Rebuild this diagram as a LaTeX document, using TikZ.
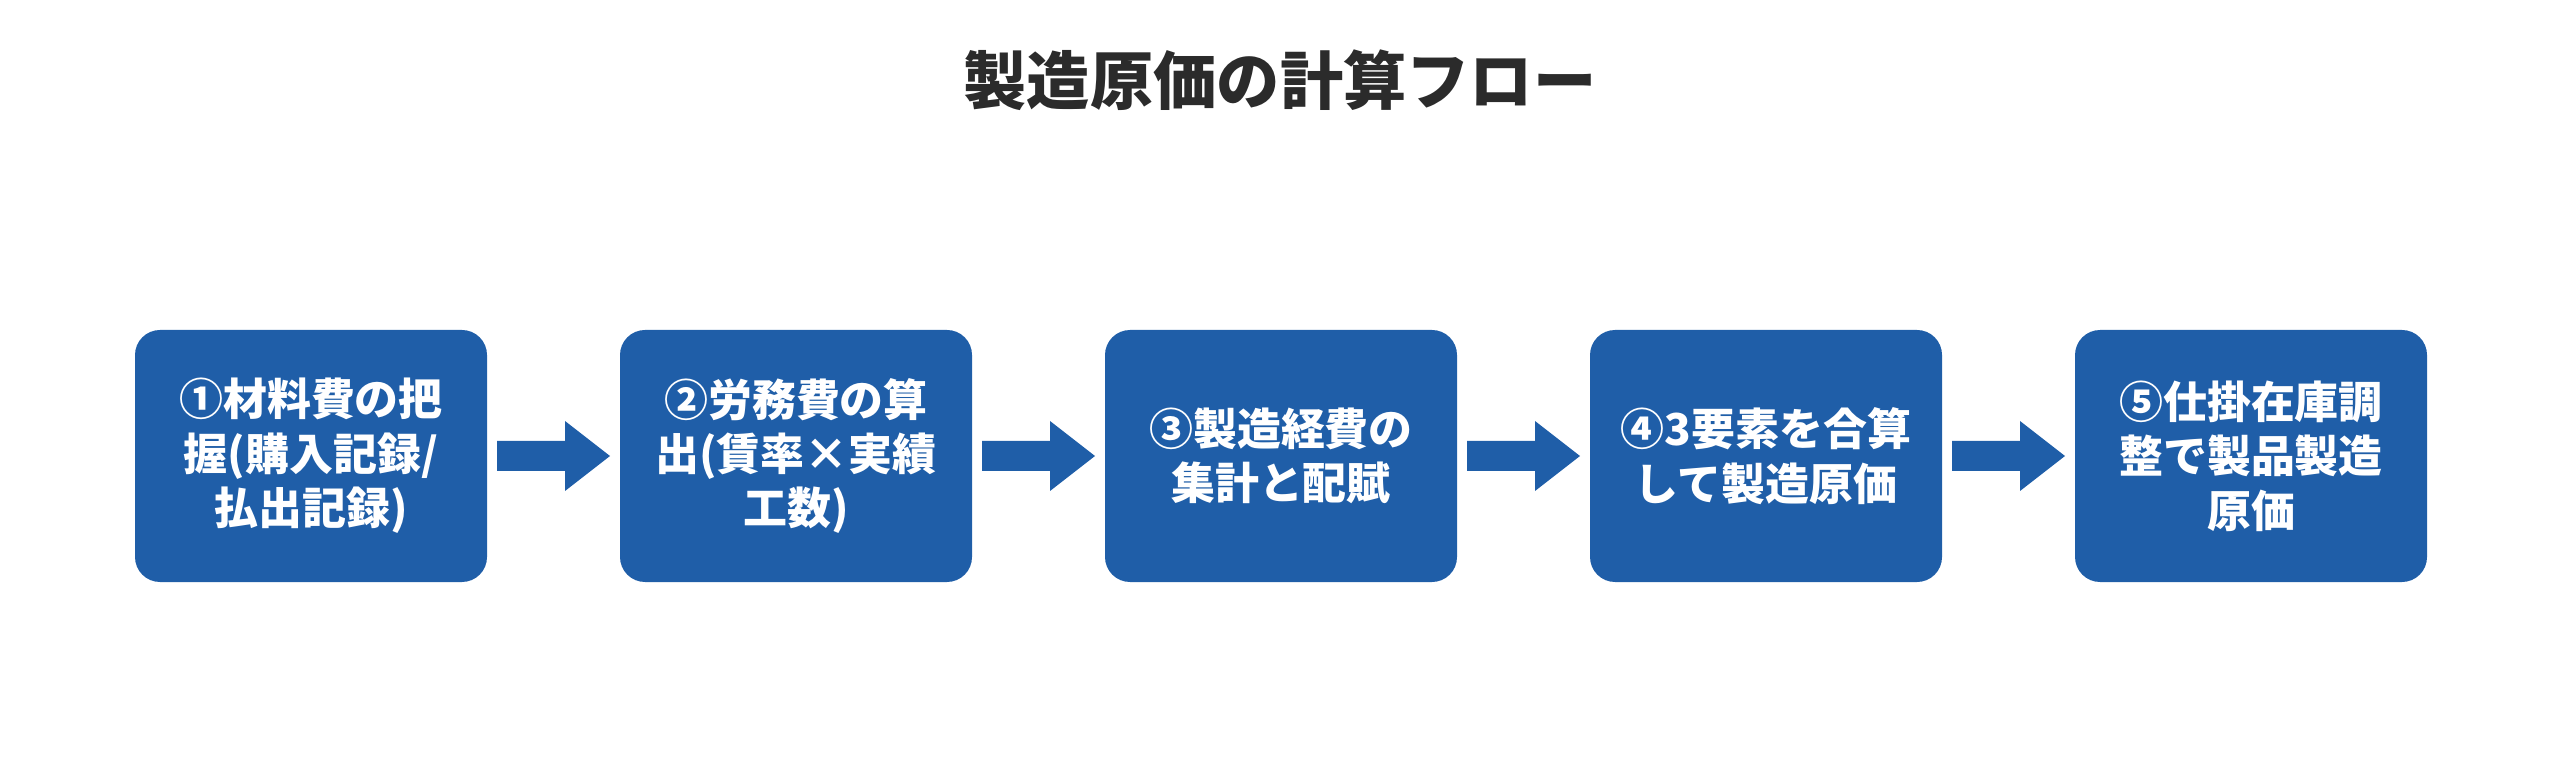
\documentclass[tikz,border=0pt]{standalone}
\usepackage{fontspec}
\setmainfont{Noto Sans CJK JP}
\usetikzlibrary{positioning}
\definecolor{flowblue}{HTML}{1F5EA8}
\definecolor{titlegray}{HTML}{2B2B2B}
\newcommand\arrbb{path picture bounding box}
\tikzset{
	stage/.style = {rectangle, rounded corners=0.25cm, fill=flowblue, text=white,
		minimum width=3.52cm, minimum height=2.52cm, align=center, outer sep=0pt,
		font=\fontsize{12.5}{15.5}\selectfont\bfseries},
	bigarrow/.style = {rectangle, minimum width=1.13cm, minimum height=0.7cm,
		inner sep=0pt, outer sep=0pt,
		path picture={\fill[flowblue]
			([yshift=-0.2cm] \arrbb.north west) -- ([xshift=0.68cm, yshift=-0.2cm] \arrbb.north west)
			-- ([xshift=0.68cm] \arrbb.north west) -- (\arrbb.east)
			-- ([xshift=0.68cm] \arrbb.south west) -- ([xshift=0.68cm, yshift=0.2cm] \arrbb.south west)
			-- ([yshift=0.2cm] \arrbb.south west) -- cycle;
		},% end of path picture
	}
}
\begin{document}
\begin{tikzpicture}[node distance=0.1cm]
\useasboundingbox (0,0) rectangle (25.6,7.56);
%----------------------------------------------------------------------------
% Title
\node (title) [text=titlegray, font=\fontsize{18}{20}\selectfont\bfseries] at (12.8,6.76) {製造原価の計算フロー};

%----------------------------------------------------------------------------
% Stages and arrows
\node (material) [stage] at (3.11,3.0) {①材料費の把\\握(購入記録/\\払出記録)};
\node (arrowA) [bigarrow, right = of material] {};
\node (labour) [stage, right = of arrowA] {②労務費の算\\出(賃率×実績\\工数)};
\node (arrowB) [bigarrow, right = of labour] {};
\node (overhead) [stage, right = of arrowB] {③製造経費の\\集計と配賦};
\node (arrowC) [bigarrow, right = of overhead] {};
\node (total) [stage, right = of arrowC] {④3要素を合算\\して製造原価};
\node (arrowD) [bigarrow, right = of total] {};
\node (product) [stage, right = of arrowD] {⑤仕掛在庫調\\整で製品製造\\原価};
\end{tikzpicture}
\end{document}
